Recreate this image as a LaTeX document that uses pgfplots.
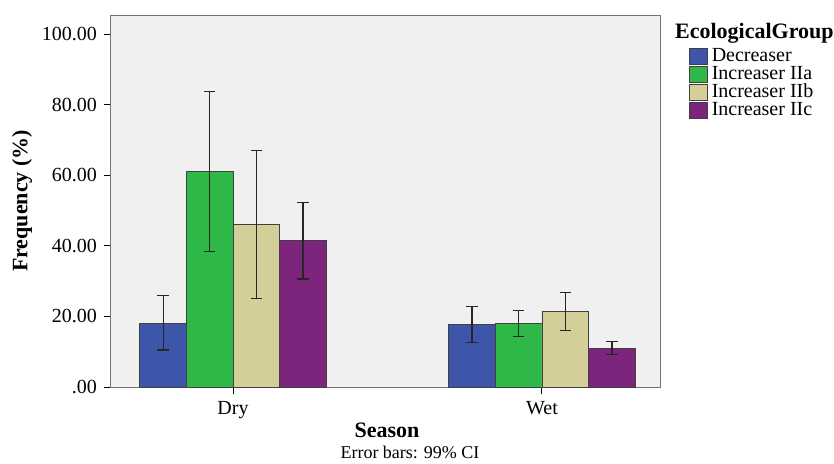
\documentclass[border=0pt]{standalone}
\usepackage{pgfplots}
\pgfplotsset{compat=1.18}
\usepackage{fontspec}
\setmainfont{Liberation Serif}
\definecolor{cDec}{RGB}{62,86,170}
\definecolor{cIIa}{RGB}{45,184,72}
\definecolor{cIIb}{RGB}{212,206,152}
\definecolor{cIIc}{RGB}{125,36,125}
\definecolor{bgc}{RGB}{240,240,240}
\begin{document}
\begin{tikzpicture}
\useasboundingbox (-55.5pt,-38pt) rectangle (361.5pt,193.5pt);
\begin{axis}[
  name=ax,
  scale only axis,
  width=274.5pt, height=186pt,
  xmin=-0.395, xmax=1.382,
  ymin=0, ymax=105.4,
  axis background/.style={fill=bgc},
  axis line style={draw=black!55, line width=0.5pt},
  xtick={0,1}, xticklabels={Dry,Wet},
  ytick={0,20,40,60,80,100},
  yticklabels={.00,20.00,40.00,60.00,80.00,100.00},
  xtick pos=left, ytick pos=left,
  tick align=outside,
  major tick length=3.5pt,
  tick style={black, line width=0.5pt},
  /pgf/number format/assume math mode=true,
  tick label style={font=\fontsize{10}{12}\selectfont},
  xlabel={\textbf{Season}},
  ylabel={\textbf{Frequency (\%)}},
  label style={font=\fontsize{11}{13}\selectfont},
  x label style={at={(axis description cs:0.5027,-0.1156)}, anchor=center},
  y label style={at={(axis description cs:-0.162,0.5)}, anchor=center},
  ybar=0pt,
  bar width=0.151,
  legend style={at={(axis description cs:1.052,0.923)}, anchor=north west,
     draw=none, fill=none, font=\fontsize{10}{11}\selectfont,
     row sep=-3.1pt, inner sep=0pt},
  legend cell align=left,
  legend image code/.code={\draw[#1, draw=black!75, line width=0.4pt] (0pt,-4pt) rectangle (9pt,4pt);},
  every axis plot/.append style={draw=black!75, line width=0.4pt},
  error bars/error bar style={black!85, line width=0.55pt},
  error bars/error mark options={rotate=90, mark size=2.8pt, line width=0.55pt, black!85},
]
\addplot[fill=cDec, bar shift=-0.2265, error bars/.cd, y dir=both, y explicit]
  coordinates {(0,18.0) += (0,8.0) -= (0,7.5) (1,17.7) += (0,5.0) -= (0,5.2)};
\addplot[fill=cIIa, bar shift=-0.0755, error bars/.cd, y dir=both, y explicit]
  coordinates {(0,61.0) += (0,22.7) -= (0,22.7) (1,18.0) += (0,3.6) -= (0,3.8)};
\addplot[fill=cIIb, bar shift=0.0755, error bars/.cd, y dir=both, y explicit]
  coordinates {(0,46.1) += (0,20.9) -= (0,21.0) (1,21.3) += (0,5.4) -= (0,5.4)};
\addplot[fill=cIIc, bar shift=0.2265, error bars/.cd, y dir=both, y explicit]
  coordinates {(0,41.6) += (0,10.6) -= (0,11.0) (1,11.0) += (0,1.9) -= (0,1.7)};
\legend{Decreaser,Increaser IIa,Increaser IIb,Increaser IIc}
\end{axis}
\node[anchor=west, font=\fontsize{11}{13}\selectfont\bfseries] at (278.5pt,177pt) {EcologicalGroup};
\node[font=\fontsize{9}{11}\selectfont] at (149.5pt,-32.5pt) {Error bars: 99\% CI};
\end{tikzpicture}
\end{document}
